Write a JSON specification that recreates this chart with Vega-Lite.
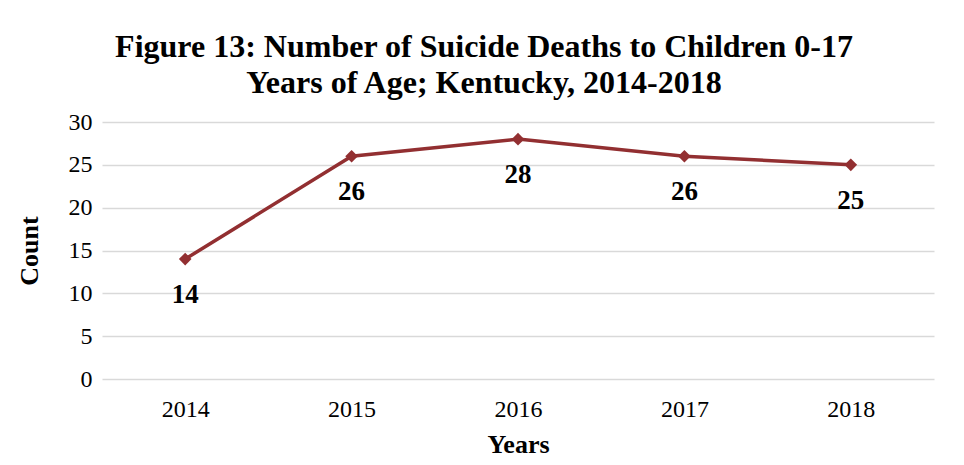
{
  "$schema": "https://vega.github.io/schema/vega-lite/v6.json",
  "width": 832,
  "height": 257,
  "autosize": {"type": "none"},
  "padding": {"left": 102, "top": 122, "right": 30, "bottom": 86},
  "background": "white",
  "config": {
    "view": {"stroke": null},
    "font": "Liberation Serif"
  },
  "title": {
    "text": ["Figure 13: Number of Suicide Deaths to Children 0-17", "Years of Age; Kentucky, 2014-2018"],
    "font": "Liberation Serif",
    "fontSize": 32,
    "fontWeight": "bold",
    "color": "black",
    "anchor": "middle",
    "dx": -34,
    "offset": 10,
    "lineHeight": 36
  },
  "data": {
    "values": [
      {"year": "2014", "count": 14},
      {"year": "2015", "count": 26},
      {"year": "2016", "count": 28},
      {"year": "2017", "count": 26},
      {"year": "2018", "count": 25}
    ]
  },
  "encoding": {
    "x": {
      "field": "year", "type": "ordinal", "title": "Years",
      "scale": {"type": "point", "padding": 0.5},
      "axis": {
        "labelAngle": 0, "labelFont": "Liberation Serif", "labelFontSize": 24, "labelColor": "black",
        "labelPadding": 18, "ticks": false, "domain": false, "grid": false,
        "titleFont": "Liberation Serif", "titleFontSize": 26, "titleFontWeight": "bold", "titleColor": "black",
        "titlePadding": 10
      }
    },
    "y": {
      "field": "count", "type": "quantitative", "title": "Count",
      "scale": {"domain": [0, 30]},
      "axis": {
        "values": [0, 5, 10, 15, 20, 25, 30],
        "labelFont": "Liberation Serif", "labelFontSize": 24, "labelColor": "black",
        "labelPadding": 10, "ticks": false, "domain": false,
        "gridColor": "#d9d9d9", "gridWidth": 1.5,
        "titleFont": "Liberation Serif", "titleFontSize": 26, "titleFontWeight": "bold", "titleColor": "black",
        "titlePadding": 26
      }
    }
  },
  "layer": [
    {
      "mark": {"type": "line", "color": "#922f31", "strokeWidth": 3.5,
        "point": {"shape": "diamond", "size": 160, "filled": true, "color": "#922f31"}}
    },
    {
      "mark": {"type": "text", "font": "Liberation Serif", "fontSize": 27, "fontWeight": "bold", "color": "black", "dy": 36, "baseline": "middle"},
      "encoding": {"text": {"field": "count", "type": "quantitative"}}
    }
  ]
}
